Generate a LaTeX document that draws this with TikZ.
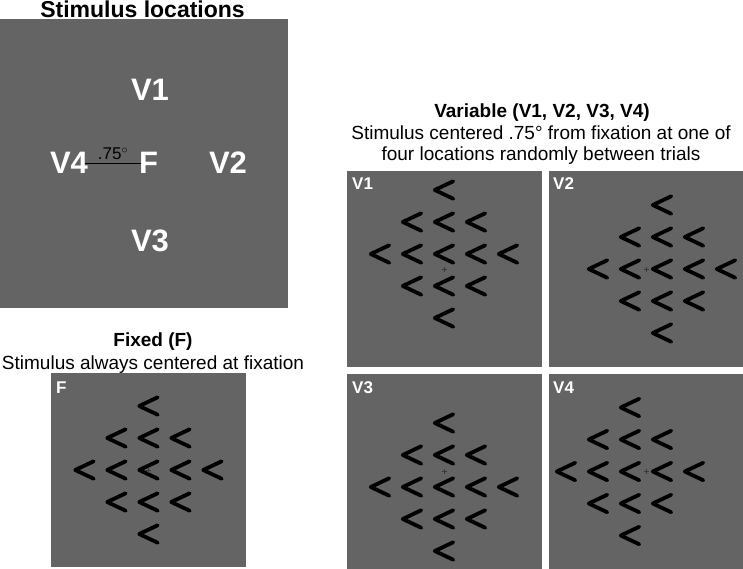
\documentclass[tikz,border=0pt]{standalone}
\usepackage{fontspec}
\setmainfont{Liberation Sans}
\usetikzlibrary{positioning}
\definecolor{stimgray}{RGB}{100,100,100}
\definecolor{crossgray}{RGB}{58,58,58}
\tikzset{
  panel/.style={fill=stimgray, inner sep=0pt, minimum width=195pt, minimum height=195pt},
  chevline/.style={line width=3.8pt, line cap=round, line join=round},
  fixcross/.style={draw=crossgray, line width=0.6pt},
  heading/.style={font=\fontsize{19}{22}\selectfont\bfseries, anchor=base, inner sep=0pt},
  caption/.style={font=\fontsize{19}{22}\selectfont, anchor=base, inner sep=0pt},
  bigtag/.style={font=\fontsize{31}{31}\selectfont\bfseries, text=white, inner sep=0pt},
  tag/.style={font=\fontsize{17}{17}\selectfont\bfseries, text=white, anchor=base west, inner sep=0pt}
}
\newcommand{\stimarray}[2]{%
  \foreach \i/\j in {0/-2,-1/-1,0/-1,1/-1,-2/0,-1/0,0/0,1/0,2/0,-1/1,0/1,1/1,0/2}
    \draw[chevline] ({#1+32*\i+9.25},{#2+32*\j-8.75}) -- ++(-18.5,8.75) -- ++(18.5,8.75);
}
\newcommand{\fixmark}[2]{%
  \draw[fixcross] ({#1-2.5},#2) -- ({#1+2.5},#2) ({#1},{#2-2.5}) -- ({#1},{#2+2.5});
}

\begin{document}
\begin{tikzpicture}[x=1pt,y=-1pt]
  \useasboundingbox (0,0) rectangle (743,569);

  % stimulus locations
  \node[heading, font=\fontsize{23}{26}\selectfont\bfseries] (loctitle) at (142.5,17.5) {Stimulus locations};
  \node[panel, minimum width=288pt, minimum height=288pt] (locs) at (144,163.5) {};
  \node[bigtag] (v1) at (150,90) {V1};
  \node[bigtag] (v2) at (228,163) {V2};
  \node[bigtag] (v3) at (150,241) {V3};
  \node[bigtag] (v4) at (69,163) {V4};
  \coordinate (fixpt) at (150,163);
  \draw[line width=0.8pt] ([xshift=-3pt]v4.east) -- (fixpt);
  \node[caption, font=\fontsize{17}{20}\selectfont] (gap) at (113,159.5) {.75$^{\circ}$};
  \node[bigtag] (f) at (148.5,163) {F};

  % fixed
  \node[heading] (fixtitle) at (153,346) {Fixed (F)};
  \node[caption] (fixsub) at (153,369) {Stimulus always centered at fixation};
  \node[panel, minimum height=194pt] (pf) at (148.5,470) {};
  \node[tag] (tf) at (56,393) {F};
  \stimarray{148.5}{470}
  \fixmark{148.5}{470}

  % variable
  \node[heading] (vartitle) at (542,118) {Variable (V1, V2, V3, V4)};
  \node[caption] (varsub1) at (541,140) {Stimulus centered .75° from fixation at one of};
  \node[caption] (varsub2) at (541,161) {four locations randomly between trials};
  \node[panel] (pv1) at (444.5,269) {};
  \node[panel] (pv2) at (646,269) {};
  \node[panel] (pv3) at (444.5,471.5) {};
  \node[panel] (pv4) at (646,471.5) {};
  \node[tag] (tv1) at (352,190) {V1};
  \node[tag] (tv2) at (553,190) {V2};
  \node[tag] (tv3) at (352,393) {V3};
  \node[tag] (tv4) at (553,393) {V4};
  \stimarray{444}{254}
  \stimarray{662}{269}
  \stimarray{444}{487}
  \stimarray{630}{471.5}
  \fixmark{444.5}{269}
  \fixmark{646}{269}
  \fixmark{444.5}{471.5}
  \fixmark{646}{471.5}
\end{tikzpicture}
\end{document}
